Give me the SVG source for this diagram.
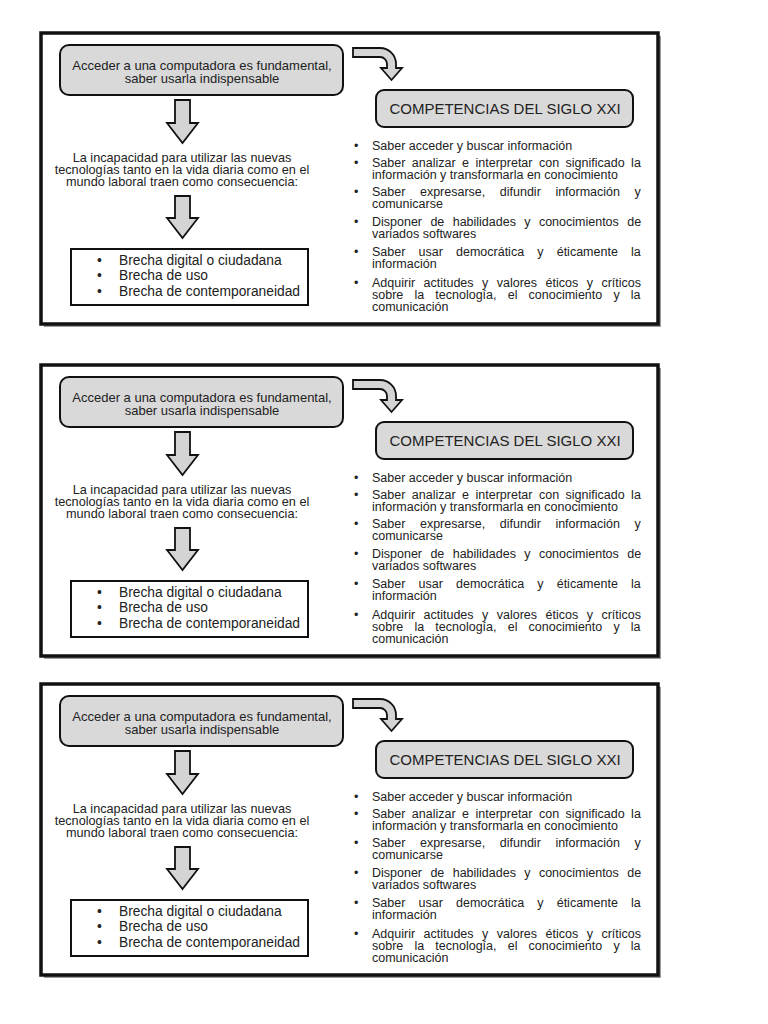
<svg xmlns="http://www.w3.org/2000/svg" width="768" height="1024" viewBox="0 0 768 1024">
<style>
  text { font-family: "Liberation Sans", Arial, sans-serif; fill: #222; }
  .frame { fill: #fff; stroke: #111; stroke-width: 3.5; }
  .shadow { fill: #9a9a9a; }
  .rbox { fill: #d9d9d9; stroke: #111; stroke-width: 2; }
  .sbox { fill: #fff; stroke: #111; stroke-width: 2; }
  .arrow { fill: #d4d4d4; stroke: #111; stroke-width: 1.8; stroke-linejoin: miter; }
  .t13 { font-size: 13px; text-anchor: middle; }
  .tmid { font-size: 12.7px; text-anchor: middle; }
  .tcomp { font-size: 15px; text-anchor: middle; }
  .tbr { font-size: 13.8px; }
  .tl { font-size: 12.5px; }
</style>

<!-- Panel 1 -->
<g id="panel-1">
  <g id="p1-frame">
    <rect class="shadow" x="44" y="36" width="617" height="291"/>
    <rect class="frame" x="41" y="33" width="617" height="291"/>
  </g>
  <g id="p1-acceso">
    <rect class="rbox" x="60" y="45" width="283" height="50" rx="9"/>
    <text class="t13" x="202" y="70">Acceder a una computadora es fundamental,</text>
    <text class="t13" x="202" y="83">saber usarla indispensable</text>
  </g>
  <g id="p1-competencias">
    <rect class="rbox" x="376" y="90" width="257" height="37" rx="8"/>
    <text class="tcomp" x="505" y="113.5">COMPETENCIAS DEL SIGLO XXI</text>
  </g>
  <g id="p1-incapacidad">
    <text class="tmid" x="182" y="162">La incapacidad para utilizar las nuevas</text>
    <text class="tmid" x="182" y="174">tecnologías tanto en la vida diaria como en el</text>
    <text class="tmid" x="182" y="186">mundo laboral traen como consecuencia:</text>
  </g>
  <g id="p1-brechas">
    <rect class="sbox" x="71" y="249" width="237" height="56"/>
    <text class="tbr" x="97" y="264.5">•</text>
    <text class="tbr" x="119" y="264.5">Brecha digital o ciudadana</text>
    <text class="tbr" x="97" y="280">•</text>
    <text class="tbr" x="119" y="280">Brecha de uso</text>
    <text class="tbr" x="97" y="296">•</text>
    <text class="tbr" x="119" y="296">Brecha de contemporaneidad</text>
  </g>
  <g id="p1-lista">
    <text class="tl" x="354" y="149.5">•</text>
    <text class="tl" x="372" y="149.5">Saber acceder y buscar información</text>
    <text class="tl" x="354" y="166.5">•</text>
    <text class="tl" x="372" y="166.5" word-spacing="3">Saber analizar e interpretar con significado la</text>
    <text class="tl" x="372" y="178.5">información y transformarla en conocimiento</text>
    <text class="tl" x="354" y="195.5">•</text>
    <text class="tl" x="372" y="195.5" word-spacing="11.1">Saber expresarse, difundir información y</text>
    <text class="tl" x="372" y="207.5">comunicarse</text>
    <text class="tl" x="354" y="225.5">•</text>
    <text class="tl" x="372" y="225.5" word-spacing="4.9">Disponer de habilidades y conocimientos de</text>
    <text class="tl" x="372" y="237.5">variados softwares</text>
    <text class="tl" x="354" y="255.5">•</text>
    <text class="tl" x="372" y="255.5" word-spacing="9.7">Saber usar democrática y éticamente la</text>
    <text class="tl" x="372" y="267.5">información</text>
    <text class="tl" x="354" y="287">•</text>
    <text class="tl" x="372" y="287" word-spacing="5">Adquirir actitudes y valores éticos y críticos</text>
    <text class="tl" x="372" y="299" word-spacing="7.7">sobre la tecnología, el conocimiento y la</text>
    <text class="tl" x="372" y="311">comunicación</text>
  </g>
  <g id="p1-connectors">
    <path class="arrow" d="M353,48 H380 A16,16 0 0 1 396,64 V68 H402 L391.5,80 L381,68 H387 V64 A7,7 0 0 0 380,57 H353 Z"/>
    <path class="arrow" d="M175,100 H190 V123 H198 L182.5,143 L167,123 H175 Z"/>
    <path class="arrow" d="M175,196 H190 V218 H198 L182.5,238 L167,218 H175 Z"/>
  </g>
</g>

<!-- Panel 2 -->
<g id="panel-2" transform="translate(0,332)">
  <g id="p2-frame">
    <rect class="shadow" x="44" y="36" width="617" height="291"/>
    <rect class="frame" x="41" y="33" width="617" height="291"/>
  </g>
  <g id="p2-acceso">
    <rect class="rbox" x="60" y="45" width="283" height="50" rx="9"/>
    <text class="t13" x="202" y="70">Acceder a una computadora es fundamental,</text>
    <text class="t13" x="202" y="83">saber usarla indispensable</text>
  </g>
  <g id="p2-competencias">
    <rect class="rbox" x="376" y="90" width="257" height="37" rx="8"/>
    <text class="tcomp" x="505" y="113.5">COMPETENCIAS DEL SIGLO XXI</text>
  </g>
  <g id="p2-incapacidad">
    <text class="tmid" x="182" y="162">La incapacidad para utilizar las nuevas</text>
    <text class="tmid" x="182" y="174">tecnologías tanto en la vida diaria como en el</text>
    <text class="tmid" x="182" y="186">mundo laboral traen como consecuencia:</text>
  </g>
  <g id="p2-brechas">
    <rect class="sbox" x="71" y="249" width="237" height="56"/>
    <text class="tbr" x="97" y="264.5">•</text>
    <text class="tbr" x="119" y="264.5">Brecha digital o ciudadana</text>
    <text class="tbr" x="97" y="280">•</text>
    <text class="tbr" x="119" y="280">Brecha de uso</text>
    <text class="tbr" x="97" y="296">•</text>
    <text class="tbr" x="119" y="296">Brecha de contemporaneidad</text>
  </g>
  <g id="p2-lista">
    <text class="tl" x="354" y="149.5">•</text>
    <text class="tl" x="372" y="149.5">Saber acceder y buscar información</text>
    <text class="tl" x="354" y="166.5">•</text>
    <text class="tl" x="372" y="166.5" word-spacing="3">Saber analizar e interpretar con significado la</text>
    <text class="tl" x="372" y="178.5">información y transformarla en conocimiento</text>
    <text class="tl" x="354" y="195.5">•</text>
    <text class="tl" x="372" y="195.5" word-spacing="11.1">Saber expresarse, difundir información y</text>
    <text class="tl" x="372" y="207.5">comunicarse</text>
    <text class="tl" x="354" y="225.5">•</text>
    <text class="tl" x="372" y="225.5" word-spacing="4.9">Disponer de habilidades y conocimientos de</text>
    <text class="tl" x="372" y="237.5">variados softwares</text>
    <text class="tl" x="354" y="255.5">•</text>
    <text class="tl" x="372" y="255.5" word-spacing="9.7">Saber usar democrática y éticamente la</text>
    <text class="tl" x="372" y="267.5">información</text>
    <text class="tl" x="354" y="287">•</text>
    <text class="tl" x="372" y="287" word-spacing="5">Adquirir actitudes y valores éticos y críticos</text>
    <text class="tl" x="372" y="299" word-spacing="7.7">sobre la tecnología, el conocimiento y la</text>
    <text class="tl" x="372" y="311">comunicación</text>
  </g>
  <g id="p2-connectors">
    <path class="arrow" d="M353,48 H380 A16,16 0 0 1 396,64 V68 H402 L391.5,80 L381,68 H387 V64 A7,7 0 0 0 380,57 H353 Z"/>
    <path class="arrow" d="M175,100 H190 V123 H198 L182.5,143 L167,123 H175 Z"/>
    <path class="arrow" d="M175,196 H190 V218 H198 L182.5,238 L167,218 H175 Z"/>
  </g>
</g>

<!-- Panel 3 -->
<g id="panel-3" transform="translate(0,651)">
  <g id="p3-frame">
    <rect class="shadow" x="44" y="36" width="617" height="291"/>
    <rect class="frame" x="41" y="33" width="617" height="291"/>
  </g>
  <g id="p3-acceso">
    <rect class="rbox" x="60" y="45" width="283" height="50" rx="9"/>
    <text class="t13" x="202" y="70">Acceder a una computadora es fundamental,</text>
    <text class="t13" x="202" y="83">saber usarla indispensable</text>
  </g>
  <g id="p3-competencias">
    <rect class="rbox" x="376" y="90" width="257" height="37" rx="8"/>
    <text class="tcomp" x="505" y="113.5">COMPETENCIAS DEL SIGLO XXI</text>
  </g>
  <g id="p3-incapacidad">
    <text class="tmid" x="182" y="162">La incapacidad para utilizar las nuevas</text>
    <text class="tmid" x="182" y="174">tecnologías tanto en la vida diaria como en el</text>
    <text class="tmid" x="182" y="186">mundo laboral traen como consecuencia:</text>
  </g>
  <g id="p3-brechas">
    <rect class="sbox" x="71" y="249" width="237" height="56"/>
    <text class="tbr" x="97" y="264.5">•</text>
    <text class="tbr" x="119" y="264.5">Brecha digital o ciudadana</text>
    <text class="tbr" x="97" y="280">•</text>
    <text class="tbr" x="119" y="280">Brecha de uso</text>
    <text class="tbr" x="97" y="296">•</text>
    <text class="tbr" x="119" y="296">Brecha de contemporaneidad</text>
  </g>
  <g id="p3-lista">
    <text class="tl" x="354" y="149.5">•</text>
    <text class="tl" x="372" y="149.5">Saber acceder y buscar información</text>
    <text class="tl" x="354" y="166.5">•</text>
    <text class="tl" x="372" y="166.5" word-spacing="3">Saber analizar e interpretar con significado la</text>
    <text class="tl" x="372" y="178.5">información y transformarla en conocimiento</text>
    <text class="tl" x="354" y="195.5">•</text>
    <text class="tl" x="372" y="195.5" word-spacing="11.1">Saber expresarse, difundir información y</text>
    <text class="tl" x="372" y="207.5">comunicarse</text>
    <text class="tl" x="354" y="225.5">•</text>
    <text class="tl" x="372" y="225.5" word-spacing="4.9">Disponer de habilidades y conocimientos de</text>
    <text class="tl" x="372" y="237.5">variados softwares</text>
    <text class="tl" x="354" y="255.5">•</text>
    <text class="tl" x="372" y="255.5" word-spacing="9.7">Saber usar democrática y éticamente la</text>
    <text class="tl" x="372" y="267.5">información</text>
    <text class="tl" x="354" y="287">•</text>
    <text class="tl" x="372" y="287" word-spacing="5">Adquirir actitudes y valores éticos y críticos</text>
    <text class="tl" x="372" y="299" word-spacing="7.7">sobre la tecnología, el conocimiento y la</text>
    <text class="tl" x="372" y="311">comunicación</text>
  </g>
  <g id="p3-connectors">
    <path class="arrow" d="M353,48 H380 A16,16 0 0 1 396,64 V68 H402 L391.5,80 L381,68 H387 V64 A7,7 0 0 0 380,57 H353 Z"/>
    <path class="arrow" d="M175,100 H190 V123 H198 L182.5,143 L167,123 H175 Z"/>
    <path class="arrow" d="M175,196 H190 V218 H198 L182.5,238 L167,218 H175 Z"/>
  </g>
</g>
</svg>
